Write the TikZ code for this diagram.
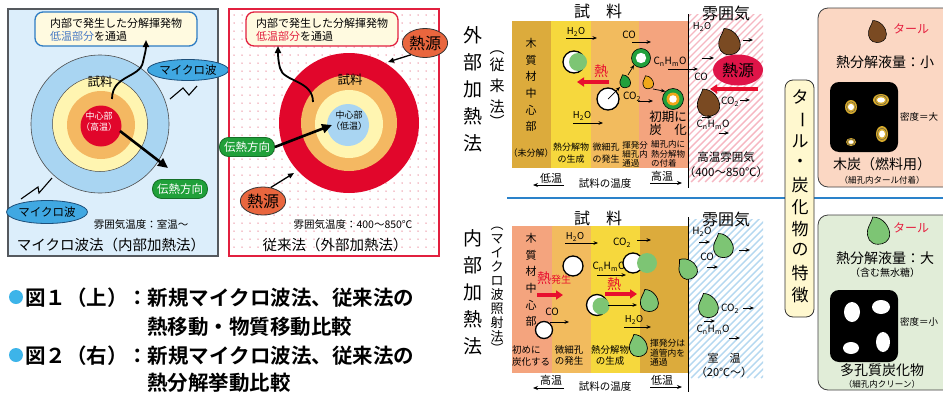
\documentclass[tikz,border=0pt]{standalone}
\usepackage{fontspec}
\setmainfont{Noto Sans CJK JP}[BoldFont={Noto Sans CJK JP Bold}]
\usetikzlibrary{arrows.meta,shapes.geometric}
\newcommand\myfs[1]{\fontsize{#1}{#1}\selectfont}
\newcommand\lfs[2]{\fontsize{#1}{#2}\selectfont}

\definecolor{figonebg}{HTML}{DCEEFB}
\definecolor{framegray}{HTML}{55595E}
\definecolor{ringblue}{HTML}{A9D5F2}
\definecolor{ringyellow}{HTML}{FFF5B1}
\definecolor{ringorange}{HTML}{F4B862}
\definecolor{ringred}{HTML}{E1062B}
\definecolor{calfill}{HTML}{FFFAE0}
\definecolor{calblue}{HTML}{2E7CC3}
\definecolor{lowblue}{HTML}{4779C4}
\definecolor{pillgreen}{HTML}{20A03A}
\definecolor{pilledge}{HTML}{156F27}
\definecolor{mwblue}{HTML}{40A8E2}
\definecolor{mwedge}{HTML}{1D4F7A}
\definecolor{srcorange}{HTML}{E9663E}
\definecolor{figtwored}{HTML}{E2203F}
\definecolor{dotpink}{HTML}{EC8C9C}
\definecolor{bandgold}{HTML}{DCAB3C}
\definecolor{bandyellow}{HTML}{F6D83D}
\definecolor{bandorange}{HTML}{F2BB5E}
\definecolor{bandsalmon}{HTML}{F4A47E}
\definecolor{srcpink}{HTML}{DF1448}
\definecolor{heatred}{HTML}{E80F2E}
\definecolor{hatchpink}{HTML}{F6B7C2}
\definecolor{hatchblue}{HTML}{B5D8F0}
\definecolor{ruleblue}{HTML}{2A82CA}
\definecolor{cardpeach}{HTML}{FBD7C3}
\definecolor{cardgreen}{HTML}{E1EDD8}
\definecolor{labelcream}{HTML}{FFF8CF}
\definecolor{dropgreen}{HTML}{7DC574}
\definecolor{tarbrown}{HTML}{7A4A22}
\definecolor{droporange}{HTML}{F0A81A}
\definecolor{targold}{HTML}{D6AA2C}
\definecolor{bulletcyan}{HTML}{3DB4E9}
\definecolor{tarred}{HTML}{E5203F}
\definecolor{ringgreen}{HTML}{22A03C}

% a pore ringed with deposited tar
\newcommand\tarhole[4]{%
  \fill[targold] (#1,#2) ellipse[x radius=#3, y radius=#4];
  \draw[black!70, line width=0.35pt] (#1,#2) ellipse[x radius=#3*0.75, y radius=#4*0.75];
  \fill[white] (#1,#2) ellipse[x radius=#3*0.5, y radius=#4*0.45];
}

\begin{document}
\begin{tikzpicture}[x=1pt,y=-1pt,
  txt/.style={inner sep=0pt, outer sep=0pt},
  flow/.style={line width=0.7pt, -{Stealth[length=4.5pt,width=3.6pt]}},
  tempflow/.style={line width=0.8pt, -{Stealth[length=5pt,width=4pt]}},
  heatarrow/.style={draw=heatred, line width=3.6pt, -{Triangle[length=7pt,width=9pt]}},
  bigarrow/.style={line width=2.6pt, -{Triangle[length=10pt,width=9pt]}},
  wavy/.style={line width=1.8pt, -{Triangle[length=7pt,width=6pt]}},
  bolt/.style={line width=1.1pt, line join=miter},
  pore/.style={circle, draw=black, line width=1.3pt, fill=white, inner sep=0pt},
  pill/.style={rounded corners=9pt, draw=pilledge, line width=0.8pt, fill=pillgreen, text=white, font=\myfs{11.5}, minimum width=55pt, minimum height=19pt, inner sep=0pt},
  mwave/.style={ellipse, draw=mwedge, line width=0.8pt, fill=mwblue, font=\myfs{11.5}, inner sep=0pt},
  source/.style={ellipse, draw=black!80, line width=0.8pt, fill=srcorange, font=\myfs{16}, inner sep=0pt},
  callout/.style={rounded corners=8pt, line width=1.3pt, fill=calfill, inner sep=0pt},
  droplet/.pic={
    \path[pic actions] (-4,-10) .. controls (4,-10) and (9,-2) .. (9,3)
      .. controls (9,9) and (4,11) .. (0,11)
      .. controls (-6,11) and (-9,6) .. (-8,0)
      .. controls (-7,-4) and (-5,-6) .. (-4,-10) -- cycle;
  }
]
\useasboundingbox (0,0) rectangle (943,394);
\fill[white] (0,0) rectangle (943,394);

%================ Fig.1 left: microwave heating =================
\draw[draw=framegray, line width=1.2pt, fill=figonebg] (8,9) rectangle (218,256);
\node[circle, draw=black!70, line width=0.6pt, fill=ringblue, minimum size=138pt, inner sep=0pt] (mwouter) at (100,124) {};
\node[circle, draw=black!70, line width=0.5pt, fill=ringyellow, minimum size=95pt, inner sep=0pt] (mwyellow) at (100,124) {};
\node[circle, fill=ringorange, minimum size=68pt, inner sep=0pt] (mworange) at (101,125) {};
\node[circle, fill=ringred, minimum size=41pt, inner sep=0pt] (mwcore) at (101,126) {};
\node[txt, text=white, align=center, font=\lfs{9}{11}] (mwcoretxt) at (99,122) {中心部\\（高温）};
\node[txt, font=\myfs{12.5}] (mwsample) at (100,82) {試料};

\node[callout, draw=calblue, minimum width=162pt, minimum height=34pt] (mwcall) at (116,29) {};
\node[txt, anchor=west, font=\myfs{11}] (mwcallA) at (50,23) {内部で発生した分解揮発物};
\node[txt, anchor=west, font=\myfs{11}] (mwcallB) at (50,36) {\textcolor{lowblue}{低温部分}を通過};

\coordinate (mwvolA) at (112,99);
\coordinate (mwvolB) at (146,40);
\draw[wavy] (mwvolA) .. controls (112,75) and (140,78) .. (143,62) .. controls (145,53) and (146,50) .. (mwvolB);

\node[pill] (mwdir) at (180,189) {伝熱方向};
\coordinate (mwheatA) at (120,131);
\coordinate (mwheatB) at (168,168);
\draw[bigarrow] (mwheatA) -- (mwheatB);

\node[mwave, minimum width=72pt, minimum height=21pt] (mwtop) at (188,70) {マイクロ波};
\node[mwave, minimum width=80pt, minimum height=23pt] (mwbot) at (47,212) {マイクロ波};
\draw[bolt] (197,86) -- (189,95) -- (183,88) -- (170,99);
\draw[bolt] (21,199) -- (38,187) -- (39,193) -- (52,178);

\node[txt, font=\myfs{10.5}] (mwatm) at (141,225) {雰囲気温度：室温～};
\node[txt, font=\myfs{14.5}] (mwtitle) at (111,245) {マイクロ波法（内部加熱法）};

%================ Fig.1 right: conventional heating =================
\draw[draw=figtwored, line width=1.2pt, fill=white] (229,9) rectangle (439,256);
\foreach \dx in {234,242,...,434}
  \foreach \dy in {15,23,...,251}
    \fill[dotpink] (\dx,\dy) circle[radius=0.75];
\node[circle, fill=ringred, minimum size=140pt, inner sep=0pt] (cvouter) at (349,123) {};
\node[circle, fill=ringorange, minimum size=96pt, inner sep=0pt] (cvorange) at (349,123) {};
\node[circle, fill=ringyellow, minimum size=68pt, inner sep=0pt] (cvyellow) at (349,124) {};
\node[circle, fill=ringblue, minimum size=42pt, inner sep=0pt] (cvcore) at (348,125) {};
\node[txt, align=center, font=\lfs{9}{11}] (cvcoretxt) at (349,121) {中心部\\（低温）};
\node[txt, font=\myfs{12.5}] (cvsample) at (350,80) {試料};

\node[callout, draw=figtwored, minimum width=152pt, minimum height=34pt] (cvcall) at (322,29) {};
\node[txt, anchor=west, font=\myfs{11}] (cvcallA) at (256,23) {内部で発生した分解揮発物};
\node[txt, anchor=west, font=\myfs{11}] (cvcallB) at (256,36) {\textcolor{figtwored}{低温部分}を通過};

\coordinate (cvvolA) at (313,102);
\coordinate (cvvolB) at (278,46);
\draw[wavy] (cvvolA) .. controls (313,80) and (283,82) .. (280,68) .. controls (278,60) and (278,55) .. (cvvolB);

\node[pill] (cvdir) at (247,147) {伝熱方向};
\coordinate (cvheatB) at (332,125);
\draw[bigarrow] (cvdir.east) -- (cvheatB);

\node[source, minimum width=41pt, minimum height=29pt] (cvsrcA) at (425,43) {熱源};
\node[source, minimum width=44pt, minimum height=28pt] (cvsrcB) at (263,201) {熱源};
\coordinate (cvhitA) at (388,62);
\coordinate (cvhitB) at (294,173);
\draw[line width=1.3pt, -{Triangle[length=6pt,width=5pt]}] (cvsrcA.220) -- (cvhitA);
\draw[line width=1.3pt, -{Triangle[length=6pt,width=5pt]}] (cvsrcB.60) -- (cvhitB);

\node[txt, font=\myfs{10.5}] (cvatm) at (353,225) {雰囲気温度：400～850℃};
\node[txt, font=\myfs{14.5}] (cvtitle) at (335,245) {従来法（外部加熱法）};

%================ captions =================
\fill[bulletcyan] (16,297) circle[radius=7];
\node[txt, anchor=west, font=\bfseries\myfs{20.5}] (capA) at (25,298) {図１（上）：新規マイクロ波法、従来法の};
\node[txt, anchor=west, font=\bfseries\myfs{20.5}] (capB) at (147,327) {熱移動・物質移動比較};
\fill[bulletcyan] (16,355) circle[radius=7];
\node[txt, anchor=west, font=\bfseries\myfs{20.5}] (capC) at (25,356) {図２（右）：新規マイクロ波法、従来法の};
\node[txt, anchor=west, font=\bfseries\myfs{20.5}] (capD) at (147,383) {熱分解挙動比較};

%================ Fig.2 : bands, upper (external heating) =================
\fill[bandgold] (512,21) rectangle (551,168);
\fill[bandyellow] (551,21) rectangle (591,168);
\fill[bandorange] (591,21) rectangle (639,168);
\fill[bandsalmon] (639,21) rectangle (688,168);
\begin{scope}
  \clip (689,14) rectangle (763,182);
  \foreach \s in {-180,-173,...,80}
    \draw[hatchpink, line width=1.4pt] (689+\s,182) -- ++(180,-180);
\end{scope}

% lower (internal heating)
\fill[bandsalmon] (512,226) rectangle (552,373);
\fill[bandorange] (552,226) rectangle (591,373);
\fill[bandyellow] (591,226) rectangle (640,373);
\fill[bandgold] (640,226) rectangle (688,373);
\begin{scope}
  \clip (689,219) rectangle (763,378);
  \foreach \s in {-180,-173,...,80}
    \draw[hatchblue, line width=1.4pt] (689+\s,378) -- ++(180,-180);
\end{scope}

\draw[ruleblue, line width=2.5pt] (507,198) -- (943,198);
\draw[line width=1pt] (688,14) -- (688,188);
\draw[line width=1pt] (688,217) -- (688,392);

% row titles
\node[txt, align=center, font=\lfs{19}{27}] (extlabel) at (473,89) {外\\部\\加\\熱\\法};
\node[txt, font=\myfs{15}] (extpA) at (497,53) {︵};
\node[txt, align=center, font=\lfs{15}{21}] (extlabelsub) at (497,86) {従\\来\\法};
\node[txt, font=\myfs{15}] (extpB) at (497,121) {︶};

\node[txt, align=center, font=\lfs{19}{27}] (intlabel) at (473,292) {内\\部\\加\\熱\\法};
\foreach \ch/\yy [count=\k] in {︵/229,マ/239,イ/253,ク/267,ロ/281,波/295,照/309,射/323,法/337,︶/348}
  \node[txt, font=\myfs{13}] (intsub\k) at (497,\yy) {\ch};

% column headers
\node[txt, font=\myfs{16}] (hdsampA) at (598,11) {試　料};
\node[txt, font=\myfs{16}] (hdatmA) at (726,13) {雰囲気};
\node[txt, font=\myfs{16}] (hdsampB) at (598,218) {試　料};
\node[txt, font=\myfs{16}] (hdatmB) at (726,219) {雰囲気};

%---------- upper band contents ----------
\node[txt, align=center, font=\lfs{11}{16.6}] (coreA) at (531,85) {木\\質\\材\\中\\心\\部};
\node[txt, font=\myfs{9}] (undec) at (531,153) {（未分解）};
\node[txt, align=center, font=\lfs{9}{11.5}] (genA) at (571,153) {熱分解物\\の生成};
\node[txt, align=center, font=\lfs{9}{11.5}] (poreA) at (606,153) {微細孔\\の発生};
\node[txt, align=left, font=\lfs{8.5}{9}] (passA) at (635,154) {揮発分\\細孔内\\通過};
\node[txt, align=left, font=\lfs{8.5}{9.5}] (depoA) at (668,154) {細孔内に\\熱分解物\\の付着};
\node[txt, align=center, font=\lfs{12.5}{13}] (earlyA) at (668,123) {初期に\\炭　化};

\node[txt, font=\myfs{9.5}] (hwA) at (576,32) {H\textsubscript{2}O};
\draw[flow] (566,38) -- (597,38);
\node[pore, minimum size=22pt] (gpA) at (574,62) {};
\fill[dropgreen] (578,62) circle[radius=9];
\node[txt, text=heatred, font=\myfs{14}] (heatA) at (601,71) {熱};
\coordinate (heatAs) at (609,82);
\coordinate (heatAe) at (577,82);
\draw[heatarrow] (heatAs) -- (heatAe);
\node[txt, font=\myfs{9.5}] (hwB) at (582,116) {H\textsubscript{2}O};
\draw[flow] (573,123) -- (603,123);

\node[pore, minimum size=22pt] (poA) at (608,99) {};
\pic[fill=ringgreen, draw=black, line width=0.6pt, scale=0.62] (gdA) at (625,81) {droplet};
\node[circle, draw=black, line width=0.6pt, fill=ringgreen, minimum size=19pt, inner sep=0pt] (rgA) at (641,58) {};
\fill[white] (641,58) circle[radius=5.2];
\draw[flow] (poA.center) -- (620,87);
\draw[flow] (628,75) -- (rgA.225);

\node[txt, font=\myfs{10}] (coA) at (629,35) {CO};
\draw[flow] (632,42) -- (651,42);
\node[txt, font=\myfs{10}] (cdA) at (632,97) {CO\textsubscript{2}};
\draw[flow] (638,101) -- (653,101);
\pic[fill=droporange, draw=black, line width=0.6pt, scale=0.62] (odA) at (648,82) {droplet};
\node[circle, draw=black, line width=0.6pt, fill=ringgreen, minimum size=21pt, inner sep=0pt] (rgB) at (673,99) {};
\fill[droporange] (673,99) circle[radius=6.5];
\fill[white] (673,99) circle[radius=3.8];
\draw[flow] (653,89) -- (rgB.135);

\node[txt, font=\myfs{10}] (chA) at (670,62) {C\textsubscript{n}H\textsubscript{m}O};
\draw[flow] (668,69) -- (698,69);

% upper atmosphere
\node[txt, font=\myfs{9.5}] (hwC) at (702,27) {H\textsubscript{2}O};
\pic[fill=tarbrown, draw=black, line width=0.6pt, scale=1.25] (tdA) at (729,41) {droplet};
\draw[flow] (743,40) -- (753,40);
\draw[flow] (702,58) -- (714,58);
\node[txt, font=\myfs{10}] (coB) at (701,77) {CO};
\node[ellipse, fill=srcpink, minimum width=50pt, minimum height=31pt, font=\myfs{16}, inner sep=0pt] (srcC) at (738,70) {熱源};
\coordinate (heatCs) at (758,89);
\coordinate (heatCe) at (710,89);
\draw[heatarrow] (heatCs) -- (heatCe);
\pic[fill=tarbrown, draw=black, line width=0.6pt, scale=1.3] (tdB) at (708,102) {droplet};
\node[txt, font=\myfs{10}] (cdB) at (730,102) {CO\textsubscript{2}};
\draw[flow] (740,100) -- (750,100);
\draw[flow] (702,117) -- (712,117);
\node[txt, font=\myfs{10}] (chB) at (713,125) {C\textsubscript{n}H\textsubscript{m}O};
\draw[flow] (719,133) -- (729,133);
\node[txt, align=center, font=\lfs{11.5}{15}] (atmA) at (726,165) {高温雰囲気\\（400～850℃）};

% temperature axis
\node[txt, font=\myfs{11}] (lowA) at (551,178) {低温};
\draw[tempflow] (564,185) -- (533,185);
\node[txt, font=\myfs{10.5}] (tempA) at (605,184) {試料の温度};
\node[txt, font=\myfs{11}] (highA) at (662,176) {高温};
\draw[tempflow] (650,183) -- (682,183);

%---------- lower band contents ----------
\node[txt, align=center, font=\lfs{11}{16.6}] (coreB) at (531,280) {木\\質\\材\\中\\心\\部};
\node[txt, text=heatred, font=\myfs{14}, anchor=west] (heatB) at (537,278) {熱{\myfs{10}発生}};
\coordinate (heatBs) at (537,295);
\coordinate (heatBe) at (563,295);
\draw[heatarrow] (heatBs) -- (heatBe);
\node[txt, font=\myfs{10}] (coC) at (552,312) {CO};
\draw[flow] (550,322) -- (569,322);
\node[pore, minimum size=17pt] (poB) at (544,330) {};
\node[txt, align=left, anchor=west, font=\lfs{9.5}{12}] (firstB) at (512,356) {初めに\\炭化する};
\node[txt, align=center, font=\lfs{9.5}{11}] (poreB) at (569,355) {微細孔\\の発生};

\node[txt, font=\myfs{9.5}] (hwD) at (575,237) {H\textsubscript{2}O};
\draw[flow] (565,243) -- (598,243);
\node[pore, minimum size=20pt] (poC) at (573,266) {};
\node[txt, font=\myfs{10}] (chC) at (609,267) {C\textsubscript{n}H\textsubscript{m}O};
\draw[flow] (597,275) -- (626,275);
\node[txt, text=heatred, font=\myfs{14}] (heatD) at (614,284) {熱};
\coordinate (heatDs) at (605,294);
\coordinate (heatDe) at (637,294);
\draw[heatarrow] (heatDs) -- (heatDe);
\node[pore, minimum size=21pt] (poD) at (597,305) {};
\fill[dropgreen] (601,306) circle[radius=8.5];
\draw[flow] (608,305) -- (637,305);
\node[txt, align=center, font=\lfs{9.5}{11}] (genB) at (610,355) {熱分解物\\の生成};

\node[txt, font=\myfs{10}] (cdC) at (622,243) {CO\textsubscript{2}};
\draw[flow] (637,240) -- (651,240);
\node[pore, minimum size=20pt] (poE) at (633,263) {};
\fill[dropgreen] (647,263) circle[radius=10];
\pic[fill=dropgreen, draw=black, line width=0.7pt, scale=1.05] (gdB) at (649,300) {droplet};
\node[txt, font=\myfs{9.5}] (hwE) at (634,320) {H\textsubscript{2}O};
\draw[flow] (624,327) -- (651,327);
\pic[fill=dropgreen, draw=black, line width=0.7pt, scale=1.05] (gdC) at (638,345) {droplet};
\node[txt, align=left, anchor=west, font=\lfs{8.8}{9.6}] (passB) at (650,353) {揮発分は\\道管内を\\通過};
\pic[fill=dropgreen, draw=black, line width=0.7pt, scale=1.05, rotate=20] (gdD) at (687,268) {droplet};

% lower atmosphere
\node[txt, font=\myfs{10}] (hwF) at (702,232) {H\textsubscript{2}O};
\draw[flow] (699,242) -- (710,242);
\pic[fill=dropgreen, draw=black, line width=0.7pt, scale=1.15] (gdE) at (723,245) {droplet};
\draw[flow] (739,250) -- (750,250);
\node[txt, font=\myfs{10}] (coD) at (707,257) {CO};
\draw[flow] (707,267) -- (718,267);
\pic[fill=dropgreen, draw=black, line width=0.7pt, scale=1.15] (gdF) at (708,305) {droplet};
\node[txt, font=\myfs{10}] (cdD) at (730,309) {CO\textsubscript{2}};
\draw[flow] (743,308) -- (754,308);
\draw[flow] (704,321) -- (715,321);
\node[txt, font=\myfs{10}] (chD) at (713,330) {C\textsubscript{n}H\textsubscript{m}O};
\draw[flow] (729,338) -- (740,338);
\node[txt, align=center, font=\lfs{11}{14}] (atmB) at (724,365) {室　温\\（20℃～）};

\node[txt, font=\myfs{11}] (highB) at (551,380) {高温};
\draw[tempflow] (564,388) -- (533,388);
\node[txt, font=\myfs{10.5}] (tempB) at (605,387) {試料の温度};
\node[txt, font=\myfs{11}] (lowB) at (662,380) {低温};
\draw[tempflow] (650,387) -- (682,387);

%================ tar / char summary =================
\draw[rounded corners=8pt, fill=labelcream, draw=black!80, line width=0.8pt] (785,80) rectangle (814,317);
\foreach \ch/\yy [count=\k] in {タ/97,ル/141,・/163,炭/185,化/207,物/229,の/250,特/273,徴/295}
  \node[txt, font=\myfs{17}] (vt\k) at (800,\yy) {\ch};
\node[txt, font=\myfs{17}, rotate=-90] (vtbar) at (800,120) {ー};

\begin{scope}
  \clip (0,0) rectangle (943,394);
  \draw[rounded corners=10pt, fill=cardpeach, draw=black!75, line width=0.8pt] (818,8) rectangle (960,187);
  \draw[rounded corners=10pt, fill=cardgreen, draw=black!75, line width=0.8pt] (818,215) rectangle (960,390);
\end{scope}

% charcoal card
\pic[fill=tarbrown, draw=black, line width=0.5pt, scale=1.05] (tdC) at (877,31) {droplet};
\node[txt, anchor=west, text=tarred, font=\myfs{12}] (tarA) at (893,29) {タール};
\node[txt, font=\myfs{14}] (yieldA) at (885,62) {熱分解液量：小};
\node[rounded corners=9pt, fill=black, minimum width=68pt, minimum height=70pt, inner sep=0pt] (charA) at (864,117) {};
\tarhole{851}{107}{6}{7}
\tarhole{881}{100}{8}{6}
\tarhole{851}{142}{5}{4}
\tarhole{882}{134}{6}{8}
\node[txt, anchor=west, font=\myfs{9.5}] (densA) at (900,117) {密度＝大};
\node[txt, font=\myfs{14}] (nameA) at (882,164) {木炭（燃料用）};
\node[txt, font=\myfs{8.5}] (noteA) at (882,180) {（細孔内タール付着）};

% porous char card
\pic[fill=dropgreen, draw=black, line width=0.6pt, scale=1.3] (gdG) at (878,230) {droplet};
\node[txt, anchor=west, text=tarred, font=\myfs{12}] (tarB) at (893,228) {タール};
\node[txt, font=\myfs{14}] (yieldB) at (885,258) {熱分解液量：大};
\node[txt, font=\myfs{10}] (noteB1) at (885,273) {（含む無水糖）};
\node[rounded corners=9pt, fill=black, minimum width=68pt, minimum height=72pt, inner sep=0pt] (charB) at (864,326) {};
\fill[white] (852,312) ellipse[x radius=8, y radius=10];
\fill[white] (881,307) ellipse[x radius=9, y radius=7];
\fill[white] (851,348) ellipse[x radius=8, y radius=6];
\fill[white] (883,342) ellipse[x radius=7, y radius=10];
\node[txt, anchor=west, font=\myfs{9.5}] (densB) at (900,322) {密度＝小};
\node[txt, font=\myfs{14}] (nameB) at (882,370) {多孔質炭化物};
\node[txt, font=\myfs{8.5}] (noteB2) at (882,384) {（細孔内クリーン）};

\end{tikzpicture}
\end{document}
